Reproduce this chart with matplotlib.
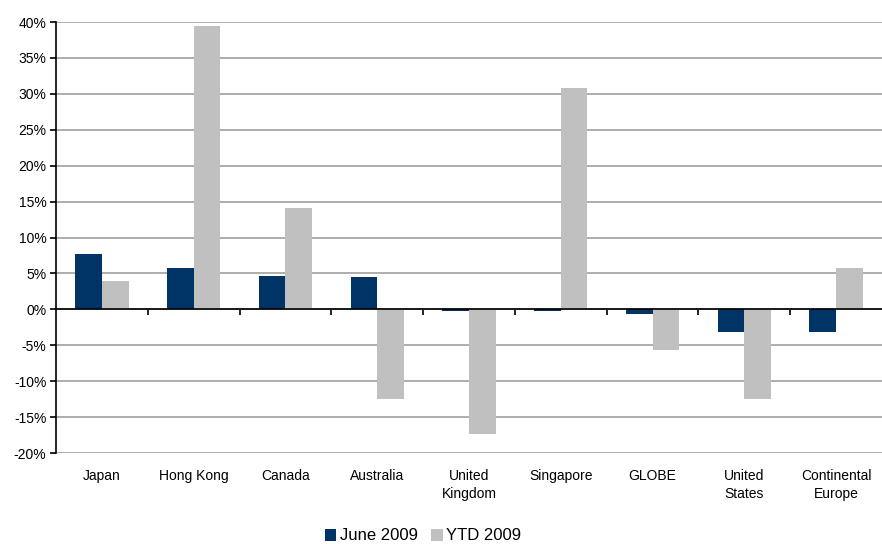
import matplotlib
matplotlib.use("Agg")
import matplotlib.pyplot as plt
import numpy as np
from matplotlib.ticker import FuncFormatter, MultipleLocator
import matplotlib.transforms as mtransforms

plt.rcParams['font.family'] = ['Liberation Sans', 'DejaVu Sans']

categories = ["Japan", "Hong Kong", "Canada", "Australia", "United\nKingdom",
              "Singapore", "GLOBE", "United\nStates", "Continental\nEurope"]
june_2009 = [7.7, 5.7, 4.6, 4.5, -0.3, -0.3, -0.6, -3.1, -3.1]
ytd_2009 = [3.9, 39.4, 14.1, -12.5, -17.3, 30.8, -5.7, -12.5, 5.7]
series_names = ["June 2009", "YTD 2009"]

fig = plt.figure(figsize=(8.82, 5.44), dpi=100)
ax = fig.add_axes([56/882, 1 - 453/544, (882 - 56)/882, (453 - 22)/544])

x = np.arange(len(categories))
w = 0.29
ax.bar(x - w/2, june_2009, w, color="#003366", label=series_names[0], zorder=3)
ax.bar(x + w/2, ytd_2009, w, color="#C0C0C0", label=series_names[1], zorder=3)

ax.set_xlim(-0.5, len(categories) - 0.5)
ax.set_ylim(-20, 40)
ax.yaxis.set_major_locator(MultipleLocator(5))
ax.yaxis.set_major_formatter(FuncFormatter(lambda v, p: f"{int(round(v))}%"))
ax.grid(axis='y', color="#A0A0A0", linewidth=1.2, zorder=0)
ax.set_axisbelow(True)

for s in ['top', 'right']:
    ax.spines[s].set_visible(False)
ax.spines['left'].set_color('black')
ax.spines['left'].set_linewidth(1.2)
ax.spines['bottom'].set_position(('data', 0))
ax.spines['bottom'].set_color('black')
ax.spines['bottom'].set_linewidth(1.2)
ax.spines['bottom'].set_zorder(4)

ax.set_xticks(x)
ax.set_xticklabels([])
ax.tick_params(axis='x', which='major', length=0)
ax.set_xticks(np.arange(len(categories) - 1) + 0.5, minor=True)
ax.tick_params(axis='x', which='minor', length=4, width=1.2, direction='out', color='black')
ax.tick_params(axis='y', length=4, width=1.2, direction='out', labelsize=10, pad=3)

trans = mtransforms.blended_transform_factory(ax.transData, ax.transAxes)
for xi, lab in zip(x, categories):
    ax.text(xi, -0.037, lab, transform=trans, ha='center', va='top',
            fontsize=10, linespacing=1.35)

leg = fig.legend(loc='center', bbox_to_anchor=(423/882, 1 - 536/544), ncol=2,
                 frameon=False, fontsize=12, handlelength=0.7, handleheight=0.7,
                 handletextpad=0.2, columnspacing=0.8, borderpad=0.2)

fig.savefig("out.png", dpi=100)
